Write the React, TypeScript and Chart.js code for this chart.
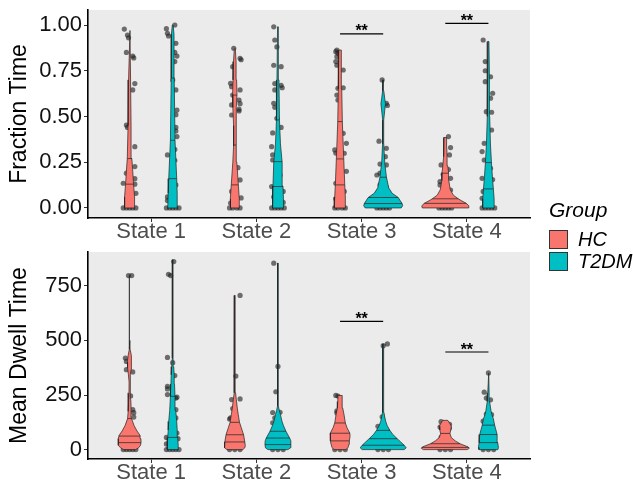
import React, { useEffect, useRef } from 'react';
import { Chart, registerables } from 'chart.js';
Chart.register(...registerables);

const FONT = 'Arial, "Liberation Sans", Helvetica, sans-serif';
const categories = ['State 1', 'State 2', 'State 3', 'State 4'];
const groups = ['HC', 'T2DM'];
const groupColors = ['#F8766D', '#00BFC4'];

// ---------- Fraction Time ----------
const ftTicks = [0, 0.25, 0.5, 0.75, 1];
const ftRange = [-0.055, 1.082];

const ft_HC_1_y = [0, 0.06, 0.13, 0.2, 0.27, 0.45, 0.7, 0.97];
const ft_HC_1_d = [5, 5, 4, 3.2, 2.3, 1.5, 1, 0.4];
const ft_HC_1_q = [0.13, 0.27];
const ft_HC_1_p = [[0.978, -0.05], [0.945, -0.02], [0.93, -0.01], [0.85, -0.03], [0.83, 0.03], [0.82, 0.04], [0.68, 0.05], [0.645, 0.03], [0.453, -0.03], [0.44, -0.02], [0.335, 0.05], [0.226, 0.05], [0.19, -0.03], [0.16, 0.05], [0.135, -0.06], [0.13, 0.05], [0.08, 0.06], [0.06, 0.01], [0, -0.06], [0, -0.03], [0, 0], [0, 0.03], [0, 0.06]];

const ft_T2_1_y = [0, 0.08, 0.16, 0.37, 0.71, 0.95, 1.0];
const ft_T2_1_d = [5, 4.5, 4, 2.3, 1.5, 1.3, 0.4];
const ft_T2_1_q = [0.16, 0.37, 0.71];
const ft_T2_1_p = [[1.0, 0.02], [0.98, -0.06], [0.955, -0.05], [0.94, -0.04], [0.9, 0.03], [0.85, 0.02], [0.83, 0.04], [0.8, 0.02], [0.7, 0], [0.645, 0.03], [0.535, 0.04], [0.51, 0.03], [0.44, 0.03], [0.42, 0.03], [0.39, 0.04], [0.32, 0.02], [0.29, -0.05], [0.26, 0.02], [0.19, 0], [0.126, 0.03], [0.06, -0.05], [0.04, -0.05], [0, -0.06], [0, -0.03], [0, 0], [0, 0.03], [0, 0.06]];

const ft_HC_2_y = [0, 0.05, 0.13, 0.25, 0.34, 0.45, 0.55, 0.62, 0.7, 0.8, 0.87];
const ft_HC_2_d = [4.3, 4.5, 3.5, 2, 1.2, 1.2, 2, 2.2, 1.8, 1.3, 0.5];
const ft_HC_2_q = [0.126, 0.344, 0.617];
const ft_HC_2_p = [[0.873, -0.01], [0.818, 0.05], [0.81, 0.06], [0.772, -0.02], [0.681, -0.04], [0.663, -0.03], [0.645, 0.05], [0.617, -0.02], [0.59, 0.04], [0.57, 0.05], [0.563, -0.03], [0.54, 0.04], [0.53, 0.04], [0.508, -0.03], [0.22, 0.03], [0.153, 0.05], [0.09, -0.03], [0.055, 0.06], [0.027, -0.04], [0, -0.05], [0, -0.02], [0, 0.02], [0, 0.05]];

const ft_T2_2_y = [0, 0.05, 0.12, 0.25, 0.35, 0.48, 0.7, 0.99];
const ft_T2_2_d = [5.3, 5.5, 5, 4.2, 2.5, 1.5, 1, 0.4];
const ft_T2_2_q = [0.117, 0.253, 0.481];
const ft_T2_2_p = [[0.99, -0.04], [0.918, -0.03], [0.88, -0.01], [0.78, -0.04], [0.772, 0.03], [0.68, -0.03], [0.67, 0.03], [0.657, 0.04], [0.645, -0.03], [0.572, -0.04], [0.55, -0.03], [0.49, -0.01], [0.44, 0.03], [0.41, -0.05], [0.335, -0.06], [0.29, -0.05], [0.262, -0.05], [0.18, 0.02], [0.117, -0.06], [0.09, 0.05], [0.06, -0.04], [0.03, 0.05], [0, -0.06], [0, -0.03], [0, 0], [0, 0.03], [0, 0.06]];

const ft_HC_3_y = [0, 0.06, 0.13, 0.27, 0.47, 0.65, 0.863];
const ft_HC_3_d = [5.8, 5.3, 4.7, 3.7, 2.3, 1.7, 1.3];
const ft_HC_3_q = [0.126, 0.268, 0.472];
const ft_HC_3_p = [[0.863, -0.03], [0.854, -0.04], [0.845, -0.02], [0.827, -0.03], [0.8, -0.04], [0.78, -0.03], [0.754, 0.03], [0.657, 0.03], [0.654, -0.02], [0.617, -0.03], [0.59, -0.02], [0.408, 0.03], [0.353, 0.06], [0.317, -0.05], [0.3, -0.04], [0.299, 0.04], [0.2, 0.06], [0.135, -0.04], [0.09, 0.04], [0.05, -0.04], [0, -0.05], [0, -0.02], [0, 0.02], [0, 0.05]];

const ft_T2_3_y = [0, 0.012, 0.025, 0.04, 0.057, 0.08, 0.11, 0.17, 0.25, 0.35, 0.48, 0.53, 0.57, 0.6, 0.64, 0.7];
const ft_T2_3_d = [18, 19.5, 18.8, 17, 15, 9, 5.5, 3.2, 1.5, 0.6, 0.5, 1.5, 2.3, 1.5, 0.6, 0.2];
const ft_T2_3_q = [0.024, 0.057, 0.168];
const ft_T2_3_p = [[0.7, -0.01], [0.572, 0.03], [0.56, 0.04], [0.365, -0.04], [0.326, 0.03], [0.28, 0.02], [0.24, -0.03], [0.235, 0.03], [0.19, -0.03], [0.18, -0.06], [0.153, 0.01], [0.126, -0.03], [0.111, 0.03], [0, -0.06], [0, -0.03], [0, 0], [0, 0.03], [0, 0.06]];

const ft_HC_4_y = [0, 0.012, 0.025, 0.04, 0.05, 0.07, 0.1, 0.15, 0.19, 0.23, 0.28, 0.33, 0.385];
const ft_HC_4_d = [23, 23.5, 21, 16, 13, 8, 5, 3.5, 3.3, 2.5, 1.8, 1.5, 1.3];
const ft_HC_4_q = [0.025, 0.05, 0.19];
const ft_HC_4_p = [[0.39, 0.03], [0.33, 0.05], [0.29, 0.04], [0.235, -0.04], [0.21, 0.03], [0.184, -0.02], [0.162, 0.05], [0.144, -0.05], [0.126, -0.05], [0.098, 0.05], [0.06, 0.02], [0, -0.06], [0, -0.03], [0, 0], [0, 0.03], [0, 0.06]];

const ft_T2_4_y = [0, 0.05, 0.1, 0.17, 0.25, 0.35, 0.5, 0.7, 0.91];
const ft_T2_4_d = [5.8, 5.7, 5, 4, 3, 2, 1.3, 1, 0.5];
const ft_T2_4_q = [0.104, 0.248];
const ft_T2_4_p = [[0.918, -0.05], [0.8, -0.03], [0.75, -0.03], [0.717, 0.02], [0.69, -0.03], [0.627, 0.04], [0.6, 0.02], [0.526, -0.02], [0.523, 0.03], [0.426, 0.03], [0.353, -0.04], [0.308, -0.06], [0.262, -0.04], [0.217, 0.02], [0.162, -0.06], [0.155, 0.04], [0.09, -0.05], [0.053, -0.06], [0, -0.06], [0, -0.03], [0, 0], [0, 0.03], [0, 0.06]];

const ftSigStates = [3, 4];
const ftSigY = [0.952, 1.009];

// ---------- Mean Dwell Time ----------
const mdtTicks = [0, 250, 500, 750];
const mdtRange = [-43, 905];

const md_HC_1_y = [0, 8, 20, 35, 50, 65, 85, 110, 142, 175, 200, 230, 260, 310, 345, 375, 400, 430, 460, 500, 797];
const md_HC_1_d = [6, 9, 11, 11.5, 11.3, 10.5, 7.5, 4.5, 2, 1.5, 1.5, 1.2, 0.6, 0.5, 1.2, 2, 2.2, 1.5, 0.5, 0.3, 0.3];
const md_HC_1_q = [32, 62, 142];
const md_HC_1_p = [[797, -0.01], [797, 0.02], [419, -0.04], [404, -0.03], [366, -0.03], [356, 0.03], [246, 0.01], [183, 0.03], [169, 0.04], [149, 0.04], [0, -0.06], [0, -0.03], [0, 0], [0, 0.03], [0, 0.06]];

const md_T2_1_y = [0, 20, 56, 90, 129, 180, 244, 300, 343, 380, 420, 869];
const md_T2_1_d = [5.5, 5.5, 5, 4.5, 4, 3, 2.3, 1.8, 1.5, 1, 0.4, 0.3];
const md_T2_1_q = [56, 244];
const md_T2_1_p = [[861, 0.01], [803, -0.04], [797, -0.02], [422, -0.05], [398, 0], [339, 0.02], [290, -0.05], [278, -0.05], [252, -0.05], [240, 0.04], [236, 0.03], [183, 0.03], [145, 0.03], [76, 0.04], [56, -0.06], [50, 0.05], [26, -0.06], [0, -0.06], [0, -0.03], [0, 0], [0, 0.03], [0, 0.06]];

const md_HC_2_y = [0, 8, 18, 35, 68, 100, 125, 160, 190, 230, 260, 300, 706];
const md_HC_2_d = [8, 10, 10.5, 10, 8.8, 6.5, 4.7, 3.5, 2.5, 1.5, 0.8, 0.4, 0.3];
const md_HC_2_q = [35, 68, 125];
const md_HC_2_p = [[706, 0.05], [337, 0.01], [229, -0.03], [232, 0.05], [188, -0.02], [145, -0.04], [140, -0.05], [0, -0.05], [0, 0], [0, 0.05]];

const md_T2_2_y = [0, 8, 23, 40, 53, 84, 110, 130, 160, 180, 200, 854];
const md_T2_2_d = [10, 12.5, 13, 12.8, 11.7, 8, 5.5, 4, 2.5, 1.3, 0.4, 0.3];
const md_T2_2_q = [23, 53, 84];
const md_T2_2_p = [[854, -0.04], [381, 0], [265, -0.02], [170, -0.05], [171, 0.02], [145, -0.03], [123, -0.05], [0, -0.05], [0, 0], [0, 0.05]];

const md_HC_3_y = [0, 10, 25, 40, 60, 75, 100, 122, 160, 190, 220, 248];
const md_HC_3_d = [6, 8, 9, 9.3, 10, 9.8, 7, 5.3, 4, 2.7, 2.3, 2];
const md_HC_3_q = [40, 75, 122];
const md_HC_3_p = [[248, -0.04], [245, -0.02], [177, -0.03], [168, -0.03], [0, -0.05], [0, 0], [0, 0.05]];

const md_T2_3_y = [0, 8, 20, 35, 50, 70, 88, 110, 130, 150, 170, 200, 483];
const md_T2_3_d = [21, 23, 21, 17.5, 14, 9.5, 6.7, 4, 2.5, 1.5, 0.8, 0.5, 0.4];
const md_T2_3_q = [20, 50, 88];
const md_T2_3_p = [[484, 0.04], [476, 0], [150, -0.01], [107, -0.05], [85, 0.04], [0, -0.05], [0, 0], [0, 0.05]];

const md_HC_4_y = [0, 6, 12, 27, 40, 55, 74, 90, 107, 120, 134];
const md_HC_4_d = [22, 24, 23, 14.7, 10, 6, 4.7, 5.5, 6, 4.5, 2.5];
const md_HC_4_q = [10, 27, 74];
const md_HC_4_p = [[128, -0.04], [116, 0.04], [103, -0.05], [99, 0.04], [56, -0.04], [0, -0.05], [0, 0], [0, 0.05]];

const md_T2_4_y = [0, 10, 32, 69, 90, 112, 140, 160, 180, 220, 260, 351];
const md_T2_4_d = [9.5, 10, 9.3, 8.7, 7.5, 6.2, 5, 3.5, 2.5, 1.2, 0.7, 0.3];
const md_T2_4_q = [32, 69, 112];
const md_T2_4_p = [[351, 0], [263, -0.04], [236, -0.02], [228, 0.02], [163, -0.02], [160, 0.03], [130, -0.05], [0, -0.05], [0, 0], [0, 0.05]];

const mdSigStates = [3, 4];
const mdSigY = [587, 447];

// ---------- assembly ----------
const v = (y, d, q, p) => ({ y, d, q, p });
const ftViolins = [
  [v(ft_HC_1_y, ft_HC_1_d, ft_HC_1_q, ft_HC_1_p), v(ft_T2_1_y, ft_T2_1_d, ft_T2_1_q, ft_T2_1_p)],
  [v(ft_HC_2_y, ft_HC_2_d, ft_HC_2_q, ft_HC_2_p), v(ft_T2_2_y, ft_T2_2_d, ft_T2_2_q, ft_T2_2_p)],
  [v(ft_HC_3_y, ft_HC_3_d, ft_HC_3_q, ft_HC_3_p), v(ft_T2_3_y, ft_T2_3_d, ft_T2_3_q, ft_T2_3_p)],
  [v(ft_HC_4_y, ft_HC_4_d, ft_HC_4_q, ft_HC_4_p), v(ft_T2_4_y, ft_T2_4_d, ft_T2_4_q, ft_T2_4_p)],
];
const mdViolins = [
  [v(md_HC_1_y, md_HC_1_d, md_HC_1_q, md_HC_1_p), v(md_T2_1_y, md_T2_1_d, md_T2_1_q, md_T2_1_p)],
  [v(md_HC_2_y, md_HC_2_d, md_HC_2_q, md_HC_2_p), v(md_T2_2_y, md_T2_2_d, md_T2_2_q, md_T2_2_p)],
  [v(md_HC_3_y, md_HC_3_d, md_HC_3_q, md_HC_3_p), v(md_T2_3_y, md_T2_3_d, md_T2_3_q, md_T2_3_p)],
  [v(md_HC_4_y, md_HC_4_d, md_HC_4_q, md_HC_4_p), v(md_T2_4_y, md_T2_4_d, md_T2_4_q, md_T2_4_p)],
];

const DODGE = 0.205;
const DENS_SCALE = 1 / 105.24;

function interp(ys: number[], ws: number[], q: number) {
  for (let i = 0; i < ys.length - 1; i++) {
    if (q >= ys[i] && q <= ys[i + 1]) {
      const t = (q - ys[i]) / (ys[i + 1] - ys[i]);
      return ws[i] + t * (ws[i + 1] - ws[i]);
    }
  }
  return ws[ws.length - 1];
}

function makeDatasets(violins, sigStates, sigY) {
  const ds: any[] = [];
  violins.forEach((pair, s) => {
    pair.forEach((vi, g) => {
      const c = s + 1 + (g === 0 ? -DODGE : DODGE);
      ds.push({
        type: 'scatter',
        data: vi.p.map(([val, j]) => ({ x: c + j, y: val })),
        pointRadius: 2.6,
        pointBackgroundColor: 'rgba(30,30,30,0.62)',
        pointBorderWidth: 0,
        pointBorderColor: 'rgba(0,0,0,0)',
        order: 3,
      });
      const right = vi.y.map((y, i) => ({ x: c + vi.d[i] * DENS_SCALE, y }));
      const left = vi.y.map((y, i) => ({ x: c - vi.d[i] * DENS_SCALE, y })).reverse();
      ds.push({
        type: 'line',
        label: groups[g],
        data: [...right, ...left, right[0]],
        fill: 'shape',
        backgroundColor: groupColors[g],
        borderColor: '#222',
        borderWidth: 0.7,
        pointRadius: 0,
        tension: 0,
        order: 2,
      });
      vi.q.forEach((q) => {
        const w = interp(vi.y, vi.d, q) * DENS_SCALE;
        ds.push({
          type: 'line',
          data: [{ x: c - w, y: q }, { x: c + w, y: q }],
          borderColor: '#222',
          borderWidth: 0.7,
          pointRadius: 0,
          fill: false,
          order: 1,
        });
      });
    });
  });
  sigStates.forEach((s, i) => {
    ds.push({
      type: 'line',
      data: [{ x: s - DODGE, y: sigY[i] }, { x: s + DODGE, y: sigY[i] }],
      borderColor: '#000',
      borderWidth: 1.2,
      pointRadius: 0,
      fill: false,
      order: 0,
    });
  });
  return ds;
}

const bgPlugin = {
  id: 'panelBg',
  beforeDraw(chart) {
    const { ctx, chartArea: a } = chart;
    ctx.save();
    ctx.fillStyle = '#EBEBEB';
    ctx.fillRect(a.left, a.top, a.right - a.left, a.bottom - a.top);
    ctx.restore();
  },
};

const starsPlugin = {
  id: 'sigStars',
  afterDatasetsDraw(chart, _args, opts) {
    const { ctx } = chart;
    const xs = chart.scales.x;
    const ys = chart.scales.y;
    ctx.save();
    ctx.font = `bold 16px ${FONT}`;
    ctx.fillStyle = '#000';
    ctx.textAlign = 'center';
    ctx.textBaseline = 'alphabetic';
    (opts.states || []).forEach((s, i) => {
      ctx.fillText('**', xs.getPixelForValue(s), ys.getPixelForValue(opts.ys[i]) + 2.5);
    });
    ctx.restore();
  },
};

function Panel({ violins, range, ticks, title, fmt, sigStates, sigY, top, height, padTop, padBottom }) {
  const ref = useRef<HTMLCanvasElement>(null);
  useEffect(() => {
    const gridOpts = { display: true, drawOnChartArea: false, drawTicks: true, tickLength: 4, color: '#333', lineWidth: 1 };
    const borderOpts = { display: true, color: '#000', width: 1.6 };
    const chart = new Chart(ref.current as HTMLCanvasElement, {
      type: 'scatter',
      data: { datasets: makeDatasets(violins, sigStates, sigY) },
      options: {
        animation: false,
        responsive: false,
        maintainAspectRatio: false,
        devicePixelRatio: 1,
        events: [],
        layout: { padding: { left: 0, right: 103, top: padTop, bottom: padBottom } },
        plugins: {
          legend: { display: false },
          tooltip: { enabled: false },
          sigStars: { states: sigStates, ys: sigY },
        },
        scales: {
          x: {
            type: 'linear',
            min: 0.4,
            max: 4.6,
            afterBuildTicks: (s) => { s.ticks = [1, 2, 3, 4].map((value) => ({ value })); },
            ticks: {
              callback: (val) => categories[Math.round(Number(val)) - 1],
              color: '#4D4D4D',
              font: { size: 22, family: FONT },
              padding: -3,
              maxRotation: 0,
              autoSkip: false,
            },
            grid: gridOpts,
            border: borderOpts,
            afterFit: (s) => { s.height = 27; s.paddingLeft = 0; s.paddingRight = 0; },
          },
          y: {
            type: 'linear',
            min: range[0],
            max: range[1],
            afterBuildTicks: (s) => { s.ticks = ticks.map((value) => ({ value })); },
            ticks: {
              callback: fmt,
              color: '#111',
              font: { size: 22, family: FONT },
              padding: 2,
              autoSkip: false,
            },
            grid: gridOpts,
            border: borderOpts,
            title: { display: true, text: title, color: '#000', font: { size: 23, family: FONT }, padding: { top: 6, bottom: 0 } },
            afterFit: (s) => { s.width = 88; s.paddingTop = 0; s.paddingBottom = 0; },
          },
        },
      },
      plugins: [bgPlugin, starsPlugin],
    } as any);
    return () => chart.destroy();
  }, []);
  return (
    <canvas
      ref={ref}
      width={633}
      height={height}
      style={{ position: 'absolute', left: 0, top, width: 633, height }}
    />
  );
}

export default function App() {
  const legendText = { position: 'absolute' as const, fontFamily: FONT, fontStyle: 'italic', color: '#000', whiteSpace: 'nowrap' as const };
  return (
    <div style={{ position: 'fixed', left: 0, top: 0, width: 633, height: 486, background: '#fff', overflow: 'hidden' }}>
      <Panel
        violins={ftViolins}
        range={ftRange}
        ticks={ftTicks}
        title="Fraction Time"
        fmt={(val) => Number(val).toFixed(2)}
        sigStates={ftSigStates}
        sigY={ftSigY}
        top={0}
        height={250}
        padTop={10}
        padBottom={5}
      />
      <Panel
        violins={mdViolins}
        range={mdtRange}
        ticks={mdtTicks}
        title="Mean Dwell Time"
        fmt={(val) => String(val)}
        sigStates={mdSigStates}
        sigY={mdSigY}
        top={240}
        height={246}
        padTop={12}
        padBottom={0}
      />
      <div style={{ ...legendText, left: 549, top: 199, fontSize: 21, lineHeight: '21px' }}>Group</div>
      {groups.map((g, i) => (
        <React.Fragment key={g}>
          <div
            style={{
              position: 'absolute',
              left: 549,
              top: 230 + i * 21.5,
              width: 19,
              height: 19,
              boxSizing: 'border-box',
              background: groupColors[i],
              border: '1px solid #333',
            }}
          />
          <div style={{ ...legendText, left: 578, top: 229 + i * 21.5, fontSize: 20, lineHeight: '20px' }}>{g}</div>
        </React.Fragment>
      ))}
    </div>
  );
}
